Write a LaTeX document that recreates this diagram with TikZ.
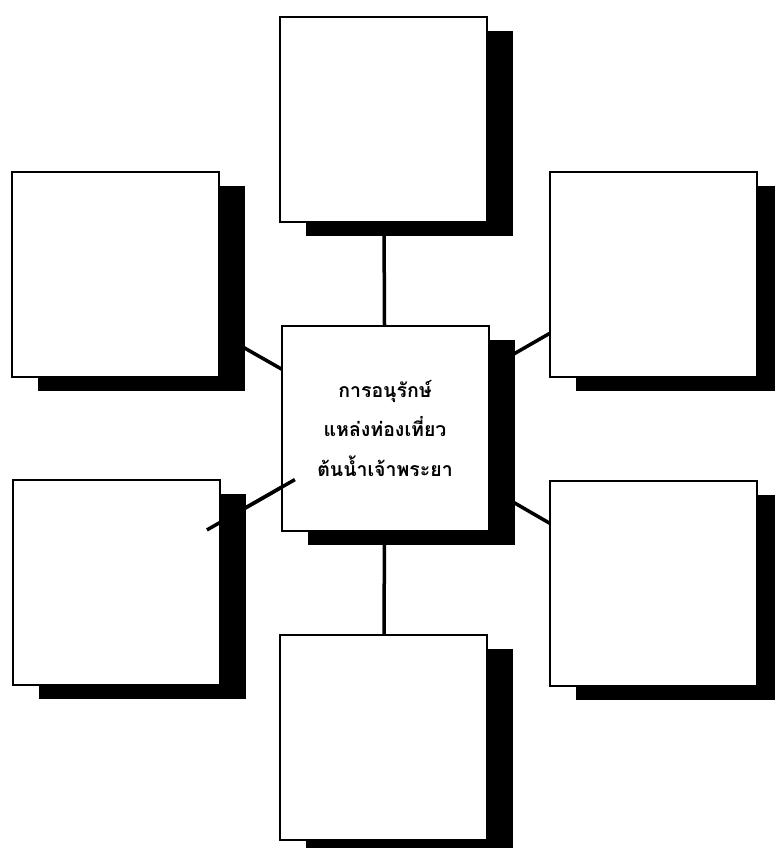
\documentclass[tikz,border=0pt]{standalone}
\usepackage{fontspec}
\newfontfamily\thaifont[Script=Thai]{Loma}
\usetikzlibrary{shadows,backgrounds,calc}
\begin{document}
\begin{tikzpicture}[x=1pt,y=-1pt,
  box/.style={draw=black, line width=2pt, fill=white, inner sep=0pt,
    minimum width=207pt, minimum height=205pt,
    drop shadow={shadow xshift=26pt, shadow yshift=-14pt, fill=black, opacity=1}},
  link/.style={draw=black, line width=3.5pt},
  title/.style={font=\thaifont\bfseries\fontsize{19.5}{39.5}\selectfont, align=center}]
\useasboundingbox (0,0) rectangle (775,848);
\node[box] (top) at (383.5,119.5) {};
\node[box] (lt)  at (115.5,274.5) {};
\node[box] (rt)  at (653,274) {};
\node[box, title] (c) at (385,428) {การอนุรักษ์\\แหล่งท่องเที่ยว\\ต้นน้ำเจ้าพระยา};
\node[box] (lb)  at (116,582) {};
\node[box] (rb)  at (653,583) {};
\node[box] (bot) at (383.5,737) {};
\begin{pgfonlayer}{background}
  \fill[white] (0,0) rectangle (775,848);
  \draw[link] (top.center) -- (c.center);
  \draw[link] (bot.center) -- (c.center);
  \draw[link] (lt.center) -- (c.center);
  \draw[link] (rt.center) -- (c.center);
  \draw[link] (rb.center) -- (c.center);
  \draw[link] (lb.center) -- (c.center);
\end{pgfonlayer}
\draw[link] ($(lb.center)!0.338!(c.center)$) -- ($(lb.center)!0.665!(c.center)$);
\end{tikzpicture}
\end{document}
